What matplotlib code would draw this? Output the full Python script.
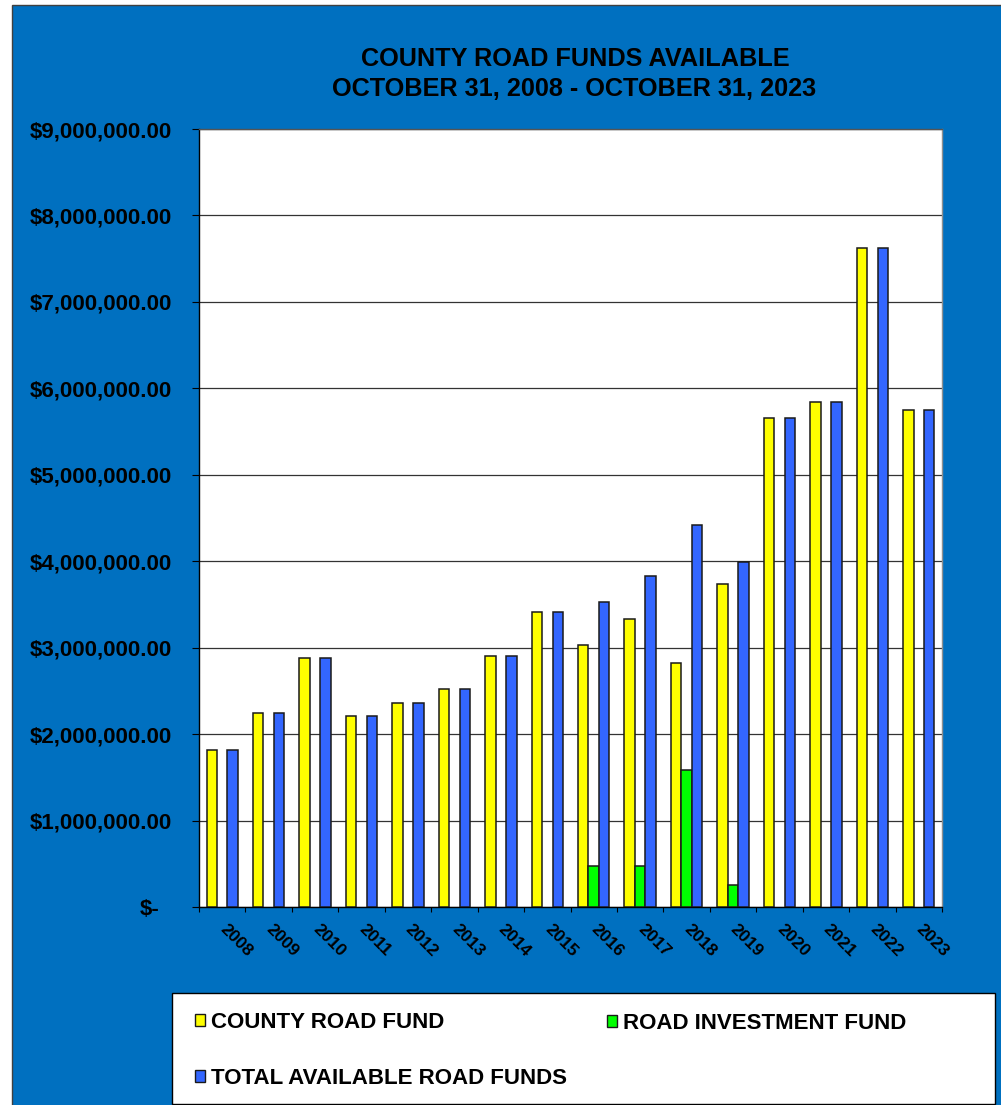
import matplotlib
matplotlib.use("Agg")
import matplotlib.pyplot as plt
import matplotlib.transforms as mtransforms
from matplotlib.patches import Rectangle, Patch
import numpy as np

plt.rcParams['font.family'] = ['Liberation Sans', 'DejaVu Sans']
plt.rcParams['font.weight'] = 'bold'

# ---------------- data ----------------
years = ['2008', '2009', '2010', '2011', '2012', '2013', '2014', '2015',
         '2016', '2017', '2018', '2019', '2020', '2021', '2022', '2023']
county_road_fund = [1820000, 2250000, 2885000, 2210000, 2365000, 2525000, 2905000, 3410000,
                    3030000, 3335000, 2825000, 3740000, 5655000, 5840000, 7625000, 5745000]
road_investment_fund = [0, 0, 0, 0, 0, 0, 0, 0,
                        480000, 480000, 1585000, 250000, 0, 0, 0, 0]
total_available = [1820000, 2250000, 2885000, 2210000, 2365000, 2525000, 2905000, 3410000,
                   3530000, 3825000, 4420000, 3990000, 5655000, 5840000, 7625000, 5745000]
y_ticks = [0, 1000000, 2000000, 3000000, 4000000, 5000000, 6000000, 7000000, 8000000, 9000000]
title_lines = ['COUNTY ROAD FUNDS AVAILABLE', 'OCTOBER 31, 2008 - OCTOBER 31, 2023']
series_labels = ['COUNTY ROAD FUND', 'ROAD INVESTMENT FUND', 'TOTAL AVAILABLE ROAD FUNDS']

# ---------------- style ----------------
W, H = 1001, 1105
DPI = 100
BG_BLUE = '#0070C0'
C_YELLOW = '#FFFF00'
C_GREEN = '#00FF00'
C_BLUE = '#3366FF'
EDGE = '#1a1a1a'

def fx(px):
    return px / W

def fy(py):
    return 1 - py / H

fig = plt.figure(figsize=(W / DPI, H / DPI), dpi=DPI, facecolor='white')

# blue chart area background
bg = Rectangle((fx(12), -0.02), 1.05, fy(5) + 0.02, transform=fig.transFigure,
               facecolor=BG_BLUE, edgecolor='#404040', linewidth=1.0, zorder=-10)
fig.patches.append(bg)

# axes (plot area)
L, R, T, B = 199, 942, 129, 907
ax = fig.add_axes([fx(L), fy(B), fx(R) - fx(L), fy(T) - fy(B)])
ax.set_facecolor('white')

x = np.arange(len(years))
w = 0.2256
ax.bar(x - w, county_road_fund, width=w, color=C_YELLOW, edgecolor=EDGE, linewidth=1.1, zorder=3)
inv_idx = [i for i, v in enumerate(road_investment_fund) if v > 0]
ax.bar(x[inv_idx], [road_investment_fund[i] for i in inv_idx], width=w, color=C_GREEN,
       edgecolor=EDGE, linewidth=1.1, zorder=3)
ax.bar(x + w, total_available, width=w, color=C_BLUE, edgecolor=EDGE, linewidth=1.1, zorder=3)

ax.set_xlim(-0.5, len(years) - 0.5)
ax.set_ylim(0, 9000000)

# y axis
ax.set_yticks(y_ticks)
ax.set_yticklabels(['' if v == 0 else '${:,.2f}'.format(v) for v in y_ticks])
ax.tick_params(axis='y', direction='out', length=5, width=0.8, color='black', pad=14.4,
               labelsize=16, labelcolor='black')
for lab in ax.get_yticklabels():
    lab.set_fontweight('bold')
zero_off = mtransforms.ScaledTranslation(-40 / DPI, 0, fig.dpi_scale_trans)
ax.text(0, 0, '$-', transform=ax.get_yaxis_transform() + zero_off, ha='right',
        va='center_baseline', fontsize=16, fontweight='bold', color='black')

ax.yaxis.grid(True, color='#333333', linewidth=0.9, zorder=0)
ax.set_axisbelow(True)

# x axis
ax.set_xticks(x)
ax.set_xticklabels(years)
ax.set_xticks(np.arange(-0.5, len(years)), minor=True)
ax.tick_params(axis='x', which='major', length=0, pad=14.4, labelsize=12.5, labelcolor='black')
ax.tick_params(axis='x', which='minor', direction='out', length=3.6, width=0.8, color='black')
for lab in ax.get_xticklabels():
    lab.set_rotation(-45)
    lab.set_ha('left')
    lab.set_va('center')
    lab.set_rotation_mode('anchor')
    lab.set_fontweight('bold')

ax.spines['left'].set_color('black')
ax.spines['bottom'].set_color('black')
ax.spines['top'].set_color('#555555')
ax.spines['right'].set_color('#909090')
for s in ax.spines.values():
    s.set_linewidth(1.0)

# title
fig.text(fx(575), fy(65.7), title_lines[0], ha='center', va='baseline',
         fontsize=18.2, fontweight='bold', color='black')
fig.text(fx(574), fy(95.7), title_lines[1], ha='center', va='baseline',
         fontsize=18.2, fontweight='bold', color='black')

# legend box
lbox = Rectangle((fx(172), fy(1104)), fx(995) - fx(172), fy(993) - fy(1104),
                 transform=fig.transFigure, facecolor='white', edgecolor='black',
                 linewidth=1.0, zorder=1)
fig.patches.append(lbox)

h_county = Patch(facecolor=C_YELLOW, edgecolor=EDGE, linewidth=1.0)
h_inv = Patch(facecolor=C_GREEN, edgecolor=EDGE, linewidth=1.0)
h_total = Patch(facecolor=C_BLUE, edgecolor=EDGE, linewidth=1.0)

common = dict(frameon=False, borderpad=0, borderaxespad=0, handlelength=0.45,
              handleheight=0.45, handletextpad=0.25,
              prop={'size': 16, 'weight': 'bold'})
leg1 = fig.legend([h_county, h_total], [series_labels[0], series_labels[2]],
                  loc='center left', bbox_to_anchor=(fx(195), fy(1050.5)),
                  labelspacing=1.54, **common)
leg2 = fig.legend([h_inv], [series_labels[1]],
                  loc='center left', bbox_to_anchor=(fx(607), fy(1023.5)), **common)

fig.savefig('out.png', dpi=DPI, facecolor='white')
